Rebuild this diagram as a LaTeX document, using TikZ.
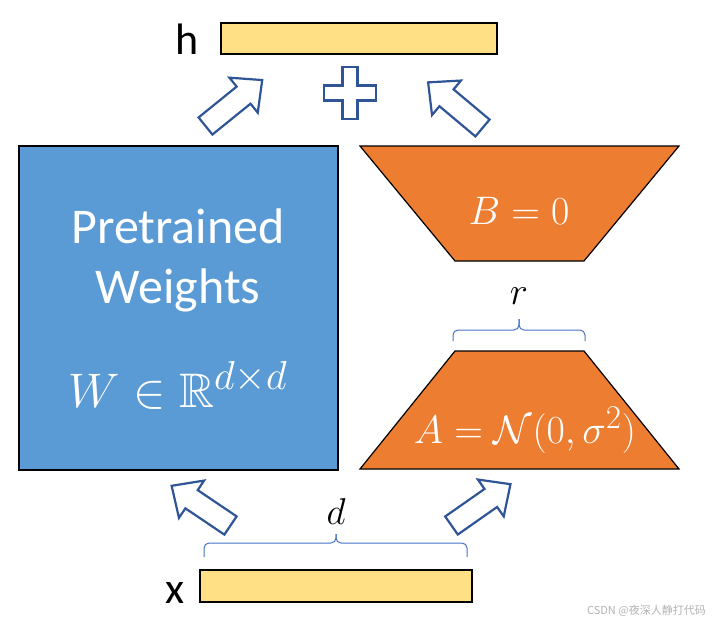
\documentclass[tikz,border=0pt]{standalone}
\usepackage{amsmath,amssymb}
\usepackage{fontspec}
\setmainfont{Carlito}
\newfontfamily\cjk{Noto Sans CJK SC}
\definecolor{wblue}{HTML}{5B9BD5}
\definecolor{lorange}{HTML}{ED7D31}
\definecolor{baryellow}{HTML}{FFE085}
\definecolor{arrblue}{HTML}{2F5597}
\definecolor{brblue}{HTML}{4472C4}
\newcommand\bigmath[2]{\scalebox{#1}{\Huge$#2$}}
\newcommand\blkarr[4]{%
  \begin{scope}[shift={(#1,#2)},rotate=#3]
    \draw[blockarrow] (0,-11) -- ({#4-24},-11) -- ({#4-24},-22.5) -- (#4,0)
      -- ({#4-24},22.5) -- ({#4-24},11) -- (0,11) -- cycle;
  \end{scope}}
\begin{document}
\begin{tikzpicture}[x=1pt,y=-1pt,
  bar/.style={draw=black,line width=1.2pt,fill=baryellow,inner sep=0pt},
  blockarrow/.style={draw=arrblue,line width=2.2pt,fill=white,line join=miter},
  trap/.style={draw=black,line width=1.2pt,fill=lorange},
  brc/.style={draw=brblue,line width=1pt,rounded corners=5pt},
  lbl/.style={inner sep=0pt,font=\fontsize{44}{50}\selectfont},
  wtext/.style={inner sep=0pt,text=white,font=\fontsize{50}{60}\selectfont,anchor=base},
  mtext/.style={inner sep=0pt},
]
\useasboundingbox (0,0) rectangle (713,624);
% bars
\node[bar,minimum width=276pt,minimum height=31pt] (hbar) at (359,38.5) {};
\node[bar,minimum width=272pt,minimum height=32pt] (xbar) at (336,586) {};
\node[lbl,anchor=base] (hlab) at (187,54) {h};
\node[lbl,anchor=base] (xlab) at (175,603) {x};
% pretrained weights
\node[draw=black,line width=1.2pt,fill=wblue,minimum width=319pt,minimum height=324pt,inner sep=0pt] (W) at (178.5,308) {};
\node[wtext] (pre) at (178,243) {Pretrained};
\node[wtext] (wts) at (178,303) {Weights};
\node[wtext] (wform) at (178,407) {\bigmath{1.95}{W\in\mathbb{R}^{d\times d}}};
% B trapezoid
\draw[trap] (360,146) -- (679,146) -- (584,261) -- (455,261) -- cycle;
\node[wtext] (Btext) at (519,224) {\bigmath{1.6}{B=0}};
% A trapezoid
\draw[trap] (455,351) -- (584,351) -- (679,469) -- (360,469) -- cycle;
\node[wtext] (Atext) at (525,443) {\bigmath{1.6}{A=\mathcal{N}(0,\sigma^2)}};
% braces
\coordinate (r1) at (453,341); \coordinate (r2) at (585,341); \coordinate (rt) at (519,319);
\draw[brc] (r1) -- (453,330) -- (rt |- 0,330) -- (rt);
\draw[brc] (rt) -- (rt |- 0,330) -- (585,330) -- (r2);
\node[mtext] (rlab) at (519,296) {\bigmath{1.55}{r}};
\coordinate (d1) at (204,557); \coordinate (d2) at (467,557); \coordinate (dt) at (336,534);
\draw[brc] (d1) -- (204,543) -- (dt |- 0,543) -- (dt);
\draw[brc] (dt) -- (dt |- 0,543) -- (467,543) -- (d2);
\node[mtext] (dlab) at (336,512) {\bigmath{1.5}{d}};
% block arrows
\blkarr{205.5}{126}{39}{73}
\blkarr{482.5}{128}{140}{71}
\blkarr{230.5}{525.5}{146}{71}
\blkarr{451.5}{525.5}{35}{72}
% plus
\begin{scope}[shift={(350,93)}]
\draw[blockarrow] (-7.5,-26) -- (7.5,-26) -- (7.5,-7.5) -- (26,-7.5) -- (26,7.5) -- (7.5,7.5)
  -- (7.5,26) -- (-7.5,26) -- (-7.5,7.5) -- (-26,7.5) -- (-26,-7.5) -- (-7.5,-7.5) -- cycle;
\end{scope}
% watermark
\node[inner sep=0pt,anchor=east,text=black!30,font=\cjk\fontsize{11}{13}\selectfont] (wm) at (706,611) {CSDN @夜深人静打代码};
\end{tikzpicture}
\end{document}
